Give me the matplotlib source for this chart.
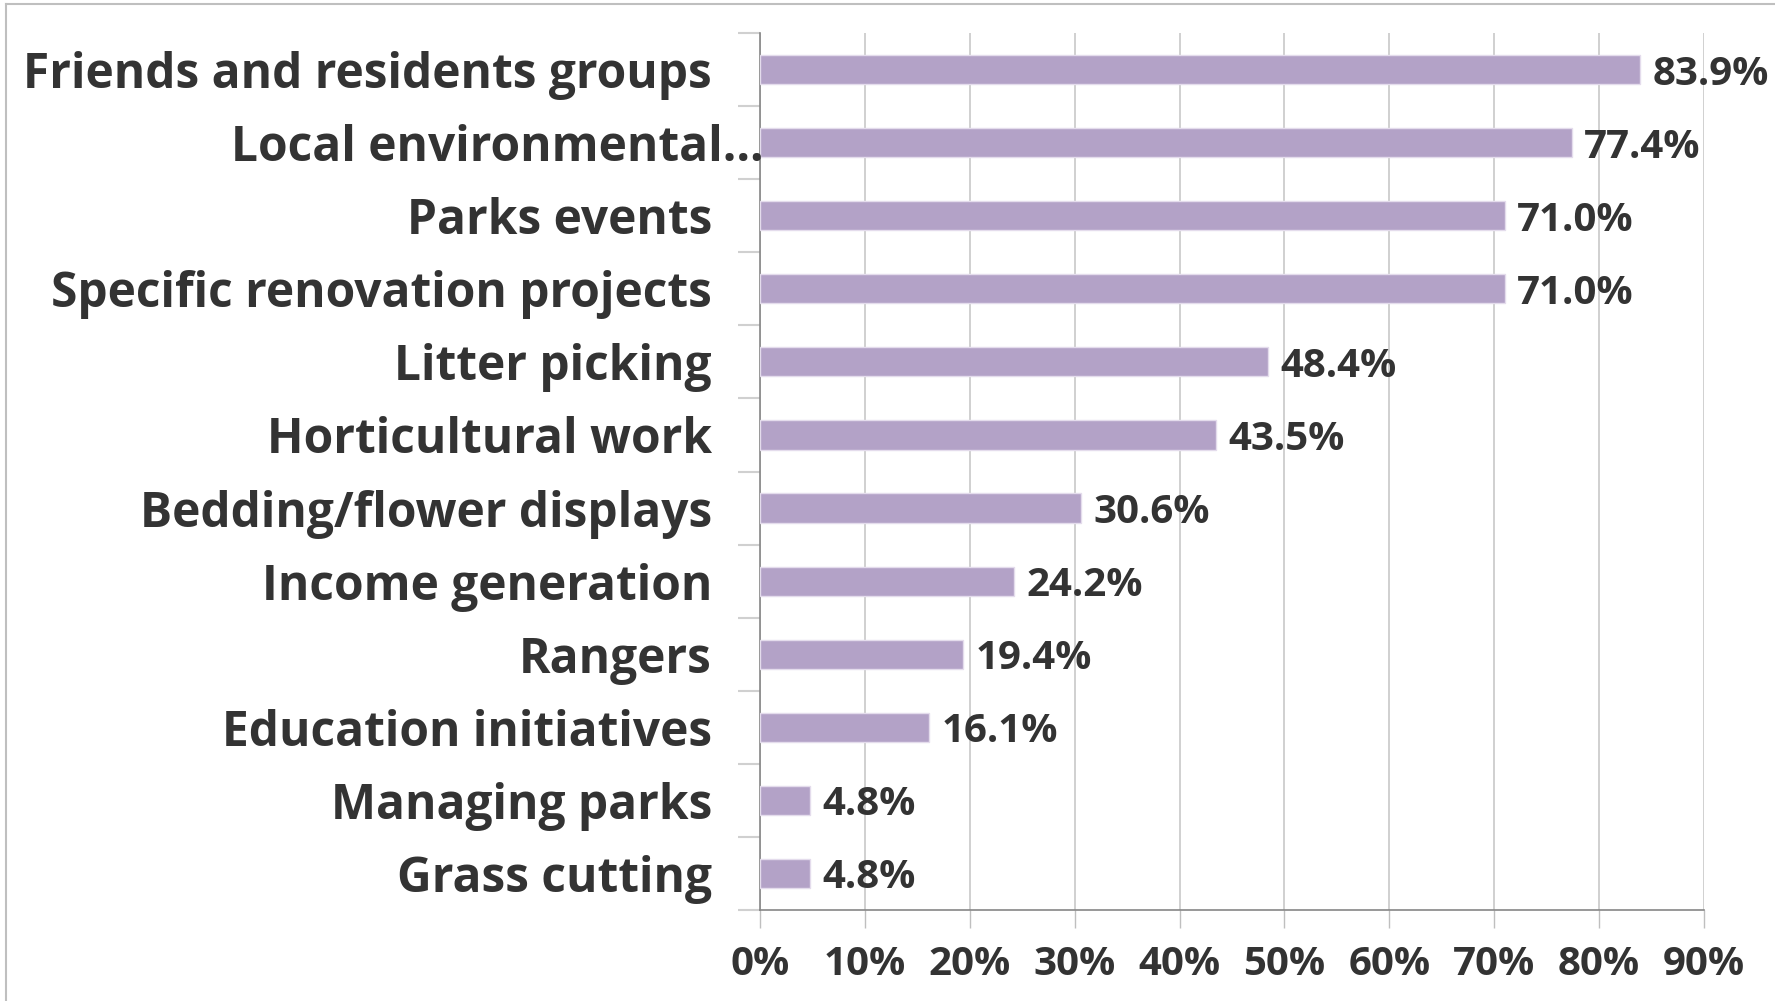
import matplotlib
matplotlib.use("Agg")
import matplotlib.pyplot as plt
from matplotlib.ticker import FixedLocator
import matplotlib.transforms as mtransforms
from matplotlib.lines import Line2D

categories = ["Friends and residents groups", "Local environmental\u2026", "Parks events",
              "Specific renovation projects", "Litter picking", "Horticultural work",
              "Bedding/flower displays", "Income generation", "Rangers",
              "Education initiatives", "Managing parks", "Grass cutting"]
values = [83.9, 77.4, 71.0, 71.0, 48.4, 43.5, 30.6, 24.2, 19.4, 16.1, 4.8, 4.8]
xticks = [0, 10, 20, 30, 40, 50, 60, 70, 80, 90]
xtick_labels = [f"{t}%" for t in xticks]

FONT = "Open Sans"
TXT = "#333333"
BAR = "#B3A2C7"

fig = plt.figure(figsize=(17.75, 10.01), dpi=100)
ax = fig.add_axes([760/1775, (1001-910)/1001, (1704-760)/1775, (910-33)/1001])

n = len(categories)
ypos = list(range(n))
ax.barh(ypos, values, height=0.4, color=BAR, edgecolor="#E4DCEC", linewidth=1.0, zorder=3)
ax.set_ylim(n - 0.5, -0.5)
ax.set_xlim(0, 90)

ax.xaxis.set_major_locator(FixedLocator(xticks))
ax.set_xticklabels(xtick_labels, fontsize=29, fontweight="bold", family=FONT, color=TXT)
ax.tick_params(axis="x", length=13, width=1, color="#BFBFBF", pad=12)
ax.grid(axis="x", color="#C8C8C8", linewidth=1.2, zorder=0)

ax.set_yticks([])
ax.yaxis.set_minor_locator(FixedLocator([i + 0.5 for i in range(-1, n)]))
ax.tick_params(axis="y", which="minor", length=16, width=1.5, color="#D0D0D0")

for s in ["top", "right"]:
    ax.spines[s].set_visible(False)
ax.spines["left"].set_color("#868686")
ax.spines["bottom"].set_color("#868686")
ax.spines["left"].set_linewidth(1.2)
ax.spines["bottom"].set_linewidth(1.2)

trans = mtransforms.blended_transform_factory(ax.transAxes, ax.transData)
for i, c in enumerate(categories):
    dx = -48 if i != 1 else 4
    off = mtransforms.offset_copy(trans, fig=fig, x=dx * 72 / 100, y=0, units="points")
    ax.text(0, i, c, transform=off, ha="right", va="center_baseline", fontsize=34.5,
            fontweight="bold", family=FONT, color=TXT)

for i, v in enumerate(values):
    ax.annotate(f"{v:.1f}%", (v, i), xytext=(9, 0), textcoords="offset points",
                ha="left", va="center_baseline", fontsize=29, fontweight="bold",
                family=FONT, color=TXT, zorder=4)

# outer frame (top and left edges visible)
fig.add_artist(Line2D([6/1775, 6/1775], [0, 1 - 4/1001], color="#BFBFBF", linewidth=1.5,
                      transform=fig.transFigure))
fig.add_artist(Line2D([6/1775, 1], [1 - 4/1001, 1 - 4/1001], color="#BFBFBF", linewidth=1.5,
                      transform=fig.transFigure))

fig.savefig("out.png", dpi=100, facecolor="white")
